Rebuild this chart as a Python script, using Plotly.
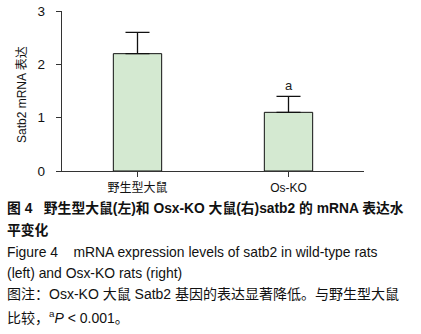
import plotly.graph_objects as go

categories = ["野生型大鼠", "Os-KO"]
means = [2.2, 1.1]
errors = [0.4, 0.3]
sig_labels = ["", "a"]
y_ticks = [0, 1, 2, 3]
y_title = "Satb2 mRNA 表达"

W, H = 421, 334
L, R, T, B = 62, 57, 11, 163
ph = H - T - B
pw = W - L - R

def py(ypx):
    return (H - B - ypx) / ph

def px(xpx):
    return (xpx - L) / pw

FONT = "Liberation Sans, Arial, Noto Sans CJK SC, sans-serif"

fig = go.Figure()
fig.add_trace(go.Bar(
    x=categories, y=means, width=0.32,
    marker=dict(color="#d4e9d1", line=dict(color="#111111", width=1)),
    error_y=dict(type="data", array=errors, symmetric=False,
                 arrayminus=[0, 0], color="#111111", thickness=1.3, width=12),
    hoverinfo="skip",
))

for c, m, e, s in zip(categories, means, errors, sig_labels):
    if s:
        fig.add_annotation(x=c, y=m + e, text=s, showarrow=False,
                           yanchor="bottom", yshift=1,
                           font=dict(family=FONT, size=13, color="#222"))

# y-axis title
fig.add_annotation(xref="paper", yref="paper", x=px(22), y=py(95),
                   xanchor="center", yanchor="middle", textangle=-90,
                   text=y_title, showarrow=False,
                   font=dict(family=FONT, size=12, color="#111"))

caption_lines = [
    ("<b>图 4&nbsp;&nbsp;&nbsp;野生型大鼠(左)和 Osx-KO 大鼠(右)satb2 的 mRNA 表达水</b>", 208, 13.8),
    ("<b>平变化</b>", 230, 13.8),
    ("Figure 4&nbsp;&nbsp;&nbsp; mRNA expression levels of satb2 in wild-type rats", 252, 13.9),
    ("(left) and Osx-KO rats (right)", 273, 13.9),
    ("图注：Osx-KO 大鼠 Satb2 基因的表达显著降低。与野生型大鼠", 294, 14),
    ("比较，<sup>a</sup><i>P</i> &lt; 0.001。", 317, 14),
]
for txt, ypx, fs in caption_lines:
    fig.add_annotation(xref="paper", yref="paper", x=px(5), y=py(ypx),
                       xanchor="left", yanchor="middle", text=txt,
                       showarrow=False, align="left",
                       font=dict(family=FONT, size=fs, color="#111"))

fig.update_layout(
    width=W, height=H,
    margin=dict(l=L, r=R, t=T, b=B, autoexpand=False),
    paper_bgcolor="white", plot_bgcolor="white",
    showlegend=False,
    font=dict(family=FONT, color="#222"),
    xaxis=dict(range=[-0.5, 1.5], showline=True, linecolor="#333", linewidth=1.3,
               ticks="outside", ticklen=5, tickcolor="#333", automargin=False,
               tickfont=dict(size=12, color="#111"), showgrid=False, zeroline=False),
    yaxis=dict(range=[0, 3], tickvals=y_ticks, showline=True, linecolor="#333",
               linewidth=1.3, ticks="outside", ticklen=5, tickcolor="#333",
               automargin=False, ticklabelstandoff=8,
               tickfont=dict(size=13.5, color="#111"), showgrid=False, zeroline=False),
)

fig.write_html("out.html", config={"displayModeBar": False, "staticPlot": True},
               post_script="document.body.style.margin='0';document.body.style.overflow='hidden';")
